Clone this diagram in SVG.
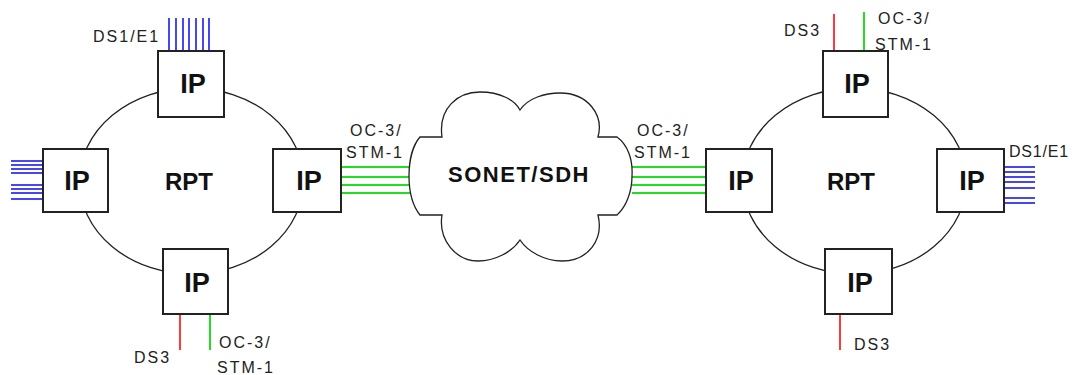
<svg xmlns="http://www.w3.org/2000/svg" width="1073" height="375" viewBox="0 0 1073 375">
<style>
.bg{fill:#ffffff}
.ring{fill:none;stroke:#222;stroke-width:1.3}
.box{fill:#ffffff;stroke:#222;stroke-width:2}
.ip{font-family:"Liberation Sans",Arial,sans-serif;font-weight:bold;font-size:27px;fill:#111;text-anchor:middle}
.big{font-family:"Liberation Sans",Arial,sans-serif;font-weight:bold;font-size:24px;fill:#111;text-anchor:middle}
.cloudtxt{font-family:"Liberation Sans",Arial,sans-serif;font-weight:bold;font-size:22px;letter-spacing:1.5px;fill:#111;text-anchor:middle}
.lbl{font-family:"Liberation Sans",Arial,sans-serif;font-size:16px;letter-spacing:2px;fill:#222}
.blue{stroke:#1a1aee;stroke-width:1.6}
.green{stroke:#22dd22;stroke-width:2}
.red{stroke:#ff3a3a;stroke-width:2}
.cloud{fill:#ffffff;stroke:#222;stroke-width:1.3}
</style>
<rect class="bg" x="0" y="0" width="1073" height="375"/>

<g id="connectors">
  <ellipse id="ring-left" class="ring" cx="191.5" cy="181" rx="112" ry="93"/>
  <ellipse id="ring-right" class="ring" cx="854.5" cy="181" rx="112" ry="93"/>
  <g class="blue">
    <line x1="169" y1="18" x2="169" y2="51"/>
    <line x1="176" y1="18" x2="176" y2="51"/>
    <line x1="183" y1="18" x2="183" y2="51"/>
    <line x1="189" y1="18" x2="189" y2="51"/>
    <line x1="196" y1="18" x2="196" y2="51"/>
    <line x1="203" y1="18" x2="203" y2="51"/>
    <line x1="209" y1="18" x2="209" y2="51"/>
  </g>
  <g class="blue">
    <line x1="11" y1="161" x2="43" y2="161"/>
    <line x1="11" y1="165" x2="43" y2="165"/>
    <line x1="11" y1="169" x2="43" y2="169"/>
    <line x1="11" y1="173" x2="43" y2="173"/>
    <line x1="11" y1="185" x2="43" y2="185"/>
    <line x1="11" y1="189" x2="43" y2="189"/>
    <line x1="11" y1="193" x2="43" y2="193"/>
    <line x1="11" y1="199" x2="43" y2="199"/>
  </g>
  <g class="blue">
    <line x1="1004" y1="167" x2="1035" y2="167"/>
    <line x1="1004" y1="172" x2="1035" y2="172"/>
    <line x1="1004" y1="177" x2="1035" y2="177"/>
    <line x1="1004" y1="182" x2="1035" y2="182"/>
    <line x1="1004" y1="188" x2="1035" y2="188"/>
    <line x1="1004" y1="198" x2="1035" y2="198"/>
    <line x1="1004" y1="203" x2="1035" y2="203"/>
  </g>
  <g class="green">
    <line x1="341" y1="167" x2="410" y2="167"/>
    <line x1="341" y1="177" x2="410" y2="177"/>
    <line x1="341" y1="185" x2="410" y2="185"/>
    <line x1="341" y1="193" x2="410" y2="193"/>
    <line x1="632" y1="167" x2="706" y2="167"/>
    <line x1="632" y1="177" x2="706" y2="177"/>
    <line x1="632" y1="185" x2="706" y2="185"/>
    <line x1="632" y1="193" x2="706" y2="193"/>
  </g>
  <line class="red" x1="180" y1="314" x2="180" y2="350"/>
  <line class="green" x1="210" y1="314" x2="210" y2="350"/>
  <line class="red" x1="834" y1="14" x2="834" y2="51"/>
  <line class="green" x1="864" y1="12" x2="864" y2="51"/>
  <line class="red" x1="840" y1="314" x2="840" y2="350"/>
</g>

<g id="cloud">
  <path class="cloud" d="M420,137 L442,137 C438,108 458,92 480,92 C500,92 515,100 520,110 C528,98 545,93 560,93 C588,93 604,115 598,137 L617,137 C628,145 633,160 632,176 C632,192 626,207 617,215 L598,215 C604,240 588,261 562,261 C545,261 528,252 520,240 C512,252 495,261 478,261 C456,261 438,240 442,215 L420,215 C412,205 409,190 409,176 C409,160 413,145 420,137 Z"/>
  <text class="cloudtxt" x="519" y="182">SONET/SDH</text>
</g>

<g id="ring-left-label"><text class="big" x="189" y="190">RPT</text></g>
<g id="ring-right-label"><text class="big" x="851" y="190">RPT</text></g>

<g id="ip-l-top"><rect class="box" x="158" y="51" width="66" height="66"/><text class="ip" x="193" y="93">IP</text></g>
<g id="ip-l-left"><rect class="box" x="43" y="149" width="65" height="63"/><text class="ip" x="77" y="190">IP</text></g>
<g id="ip-l-right"><rect class="box" x="273" y="149" width="68" height="63"/><text class="ip" x="309" y="190">IP</text></g>
<g id="ip-l-bottom"><rect class="box" x="163" y="249" width="65" height="65"/><text class="ip" x="197" y="292">IP</text></g>

<g id="ip-r-top"><rect class="box" x="823" y="51" width="65" height="66"/><text class="ip" x="857" y="93">IP</text></g>
<g id="ip-r-left"><rect class="box" x="706" y="149" width="66" height="63"/><text class="ip" x="741" y="190">IP</text></g>
<g id="ip-r-right"><rect class="box" x="937" y="149" width="67" height="63"/><text class="ip" x="972" y="190">IP</text></g>
<g id="ip-r-bottom"><rect class="box" x="825" y="249" width="67" height="65"/><text class="ip" x="860" y="292">IP</text></g>

<g id="labels">
  <text class="lbl" x="93" y="42">DS1/E1</text>
  <text class="lbl" x="350" y="136">OC-3/</text>
  <text class="lbl" x="346" y="158">STM-1</text>
  <text class="lbl" x="637" y="136">OC-3/</text>
  <text class="lbl" x="634" y="158">STM-1</text>
  <text class="lbl" x="784" y="36">DS3</text>
  <text class="lbl" x="878" y="24">OC-3/</text>
  <text class="lbl" x="875" y="50">STM-1</text>
  <text class="lbl" x="1009" y="157" style="letter-spacing:0.8px">DS1/E1</text>
  <text class="lbl" x="134" y="363">DS3</text>
  <text class="lbl" x="219" y="348">OC-3/</text>
  <text class="lbl" x="217" y="373">STM-1</text>
  <text class="lbl" x="854" y="350">DS3</text>
</g>
</svg>
